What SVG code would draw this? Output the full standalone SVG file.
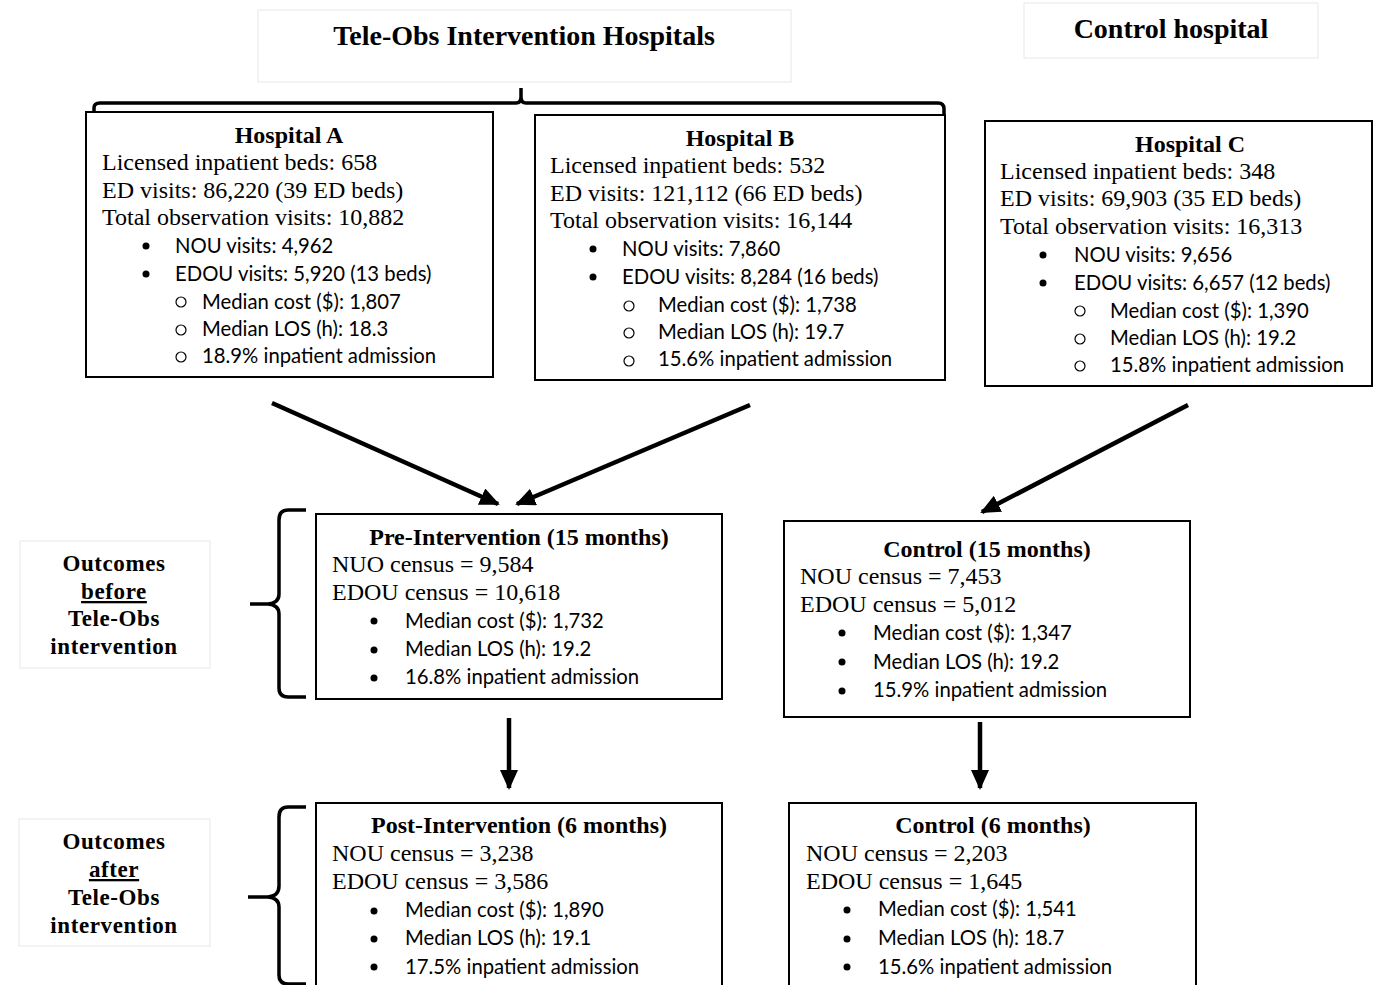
<svg xmlns="http://www.w3.org/2000/svg" width="1374" height="985" viewBox="0 0 1374 985">
  <style>
    .box { fill: #ffffff; stroke: #000000; stroke-width: 2; }
    .lbox { fill: #ffffff; stroke: #ececec; stroke-width: 1.2; }
    .brace { fill: none; stroke: #000000; stroke-width: 3.5; stroke-linejoin: round; }
    .conn { fill: none; stroke: #000000; stroke-width: 4.5; }
    .hdr { font-family: "Liberation Serif", "Times New Roman", serif; font-weight: bold; font-size: 28px; fill: #000; }
    .ttl { font-family: "Liberation Serif", "Times New Roman", serif; font-weight: bold; font-size: 24px; fill: #000; }
    .ser { font-family: "Liberation Serif", "Times New Roman", serif; font-size: 24px; fill: #000; }
    .san { font-family: Lato, "Open Sans", "Liberation Sans", sans-serif; font-size: 20.3px; fill: #000; }
    .side { font-family: "Liberation Serif", "Times New Roman", serif; font-weight: bold; font-size: 23px; letter-spacing: 0.6px; fill: #000; }
    .dot { fill: #000; }
    .ring { fill: none; stroke: #000; stroke-width: 1.2; }
  </style>
  <defs>
    <marker id="arrow" markerUnits="userSpaceOnUse" markerWidth="22" markerHeight="20" refX="18" refY="9" orient="auto">
      <path d="M0,0 L20,9 L0,18 Z" fill="#000"/>
    </marker>
  </defs>

  <rect width="1374" height="985" fill="#ffffff"/>

  <!-- headers -->
  <g id="header-intervention">
    <rect class="lbox" x="258" y="10" width="533" height="72"/>
    <text class="hdr" x="524" y="45" text-anchor="middle">Tele-Obs Intervention Hospitals</text>
  </g>
  <g id="header-control">
    <rect class="lbox" x="1024" y="3" width="294" height="55"/>
    <text class="hdr" x="1171" y="38" text-anchor="middle">Control hospital</text>
  </g>

  <!-- brace grouping hospitals A and B -->
  <g id="brace-top">
    <path class="brace" d="M94,119 L94,108 Q94,103 100,103 L516,103 Q521,103 521,97 L521,88 M521,97 Q521,103 526,103 L938,103 Q944,103 944,109 L944,119"/>
  </g>

  <!-- hospitals -->
  <g id="hospital-a">
    <rect class="box" x="86" y="112" width="407" height="265"/>
    <text class="ttl" x="289" y="143" text-anchor="middle">Hospital A</text>
    <text class="ser" x="102" y="170">Licensed inpatient beds: 658</text>
    <text class="ser" x="102" y="198">ED visits: 86,220 (39 ED beds)</text>
    <text class="ser" x="102" y="225">Total observation visits: 10,882</text>
    <circle class="dot" cx="146" cy="246" r="3.5"/>
    <text class="san" x="175" y="253">NOU visits: 4,962</text>
    <circle class="dot" cx="146" cy="274" r="3.5"/>
    <text class="san" x="175" y="281">EDOU visits: 5,920 (13 beds)</text>
    <circle class="ring" cx="181" cy="302" r="5"/>
    <text class="san" x="202" y="309">Median cost ($): 1,807</text>
    <circle class="ring" cx="181" cy="330" r="5"/>
    <text class="san" x="202" y="336">Median LOS (h): 18.3</text>
    <circle class="ring" cx="181" cy="357" r="5"/>
    <text class="san" x="202" y="363">18.9% inpatient admission</text>
  </g>

  <g id="hospital-b">
    <rect class="box" x="535" y="115" width="410" height="265"/>
    <text class="ttl" x="740" y="146" text-anchor="middle">Hospital B</text>
    <text class="ser" x="550" y="173">Licensed inpatient beds: 532</text>
    <text class="ser" x="550" y="201">ED visits: 121,112 (66 ED beds)</text>
    <text class="ser" x="550" y="228">Total observation visits: 16,144</text>
    <circle class="dot" cx="593" cy="249" r="3.5"/>
    <text class="san" x="622" y="256">NOU visits: 7,860</text>
    <circle class="dot" cx="593" cy="277" r="3.5"/>
    <text class="san" x="622" y="284">EDOU visits: 8,284 (16 beds)</text>
    <circle class="ring" cx="629" cy="306" r="5"/>
    <text class="san" x="658" y="312">Median cost ($): 1,738</text>
    <circle class="ring" cx="629" cy="333" r="5"/>
    <text class="san" x="658" y="339">Median LOS (h): 19.7</text>
    <circle class="ring" cx="629" cy="361" r="5"/>
    <text class="san" x="658" y="366">15.6% inpatient admission</text>
  </g>

  <g id="hospital-c">
    <rect class="box" x="985" y="121" width="387" height="265"/>
    <text class="ttl" x="1190" y="152" text-anchor="middle">Hospital C</text>
    <text class="ser" x="1000" y="179">Licensed inpatient beds: 348</text>
    <text class="ser" x="1000" y="206">ED visits: 69,903 (35 ED beds)</text>
    <text class="ser" x="1000" y="234">Total observation visits: 16,313</text>
    <circle class="dot" cx="1043" cy="255" r="3.5"/>
    <text class="san" x="1074" y="262">NOU visits: 9,656</text>
    <circle class="dot" cx="1043" cy="283" r="3.5"/>
    <text class="san" x="1074" y="290">EDOU visits: 6,657 (12 beds)</text>
    <circle class="ring" cx="1080" cy="311" r="5"/>
    <text class="san" x="1110" y="318">Median cost ($): 1,390</text>
    <circle class="ring" cx="1080" cy="339" r="5"/>
    <text class="san" x="1110" y="345">Median LOS (h): 19.2</text>
    <circle class="ring" cx="1080" cy="366" r="5"/>
    <text class="san" x="1110" y="372">15.8% inpatient admission</text>
  </g>

  <!-- period outcome boxes -->
  <g id="pre-intervention">
    <rect class="box" x="316" y="514" width="406" height="185"/>
    <text class="ttl" x="519" y="545" text-anchor="middle">Pre-Intervention (15 months)</text>
    <text class="ser" x="332" y="572">NUO census = 9,584</text>
    <text class="ser" x="332" y="600">EDOU census = 10,618</text>
    <circle class="dot" cx="374" cy="621" r="3.5"/>
    <text class="san" x="405" y="628">Median cost ($): 1,732</text>
    <circle class="dot" cx="374" cy="650" r="3.5"/>
    <text class="san" x="405" y="656">Median LOS (h): 19.2</text>
    <circle class="dot" cx="374" cy="678" r="3.5"/>
    <text class="san" x="405" y="684">16.8% inpatient admission</text>
  </g>

  <g id="control-15">
    <rect class="box" x="784" y="521" width="406" height="196"/>
    <text class="ttl" x="987" y="557" text-anchor="middle">Control (15 months)</text>
    <text class="ser" x="800" y="584">NOU census = 7,453</text>
    <text class="ser" x="800" y="612">EDOU census = 5,012</text>
    <circle class="dot" cx="842" cy="633" r="3.5"/>
    <text class="san" x="873" y="640">Median cost ($): 1,347</text>
    <circle class="dot" cx="842" cy="662" r="3.5"/>
    <text class="san" x="873" y="669">Median LOS (h): 19.2</text>
    <circle class="dot" cx="842" cy="691" r="3.5"/>
    <text class="san" x="873" y="697">15.9% inpatient admission</text>
  </g>

  <g id="post-intervention">
    <rect class="box" x="316" y="803" width="406" height="190"/>
    <text class="ttl" x="519" y="833" text-anchor="middle">Post-Intervention (6 months)</text>
    <text class="ser" x="332" y="861">NOU census = 3,238</text>
    <text class="ser" x="332" y="889">EDOU census = 3,586</text>
    <circle class="dot" cx="374" cy="911" r="3.5"/>
    <text class="san" x="405" y="917">Median cost ($): 1,890</text>
    <circle class="dot" cx="374" cy="939" r="3.5"/>
    <text class="san" x="405" y="945">Median LOS (h): 19.1</text>
    <circle class="dot" cx="374" cy="967" r="3.5"/>
    <text class="san" x="405" y="974">17.5% inpatient admission</text>
  </g>

  <g id="control-6">
    <rect class="box" x="789" y="803" width="407" height="190"/>
    <text class="ttl" x="993" y="833" text-anchor="middle">Control (6 months)</text>
    <text class="ser" x="806" y="861">NOU census = 2,203</text>
    <text class="ser" x="806" y="889">EDOU census = 1,645</text>
    <circle class="dot" cx="847" cy="910" r="3.5"/>
    <text class="san" x="878" y="916">Median cost ($): 1,541</text>
    <circle class="dot" cx="847" cy="939" r="3.5"/>
    <text class="san" x="878" y="945">Median LOS (h): 18.7</text>
    <circle class="dot" cx="847" cy="967" r="3.5"/>
    <text class="san" x="878" y="974">15.6% inpatient admission</text>
  </g>

  <!-- side labels with braces -->
  <g id="label-before">
    <rect class="lbox" x="20" y="541" width="190" height="127"/>
    <text class="side" x="114" y="571" text-anchor="middle">Outcomes</text>
    <text class="side" x="114" y="599" text-anchor="middle" text-decoration="underline">before</text>
    <text class="side" x="114" y="626" text-anchor="middle">Tele-Obs</text>
    <text class="side" x="114" y="654" text-anchor="middle">intervention</text>
    <path class="brace" d="M306,510 L288,510 Q279,510 279,520 L279,594 Q279,603 268,604 L250,604 M268,604 Q279,605 279,614 L279,688 Q279,697 288,697 L306,697"/>
  </g>

  <g id="label-after">
    <rect class="lbox" x="19" y="819" width="191" height="127"/>
    <text class="side" x="114" y="849" text-anchor="middle">Outcomes</text>
    <text class="side" x="114" y="877" text-anchor="middle" text-decoration="underline">after</text>
    <text class="side" x="114" y="905" text-anchor="middle">Tele-Obs</text>
    <text class="side" x="114" y="933" text-anchor="middle">intervention</text>
    <path class="brace" d="M306,807 L288,807 Q279,807 279,817 L279,886 Q279,896 268,897 L248,897 M268,897 Q279,898 279,907 L279,975 Q279,984 288,984 L306,984"/>
  </g>

  <!-- connectors -->
  <g id="connectors">
    <line class="conn" x1="272" y1="403" x2="498" y2="504" marker-end="url(#arrow)"/>
    <line class="conn" x1="750" y1="405" x2="517" y2="504" marker-end="url(#arrow)"/>
    <line class="conn" x1="1188" y1="405" x2="982" y2="512" marker-end="url(#arrow)"/>
    <line class="conn" x1="509" y1="718" x2="509" y2="788" marker-end="url(#arrow)"/>
    <line class="conn" x1="980" y1="722" x2="980" y2="788" marker-end="url(#arrow)"/>
  </g>
</svg>
